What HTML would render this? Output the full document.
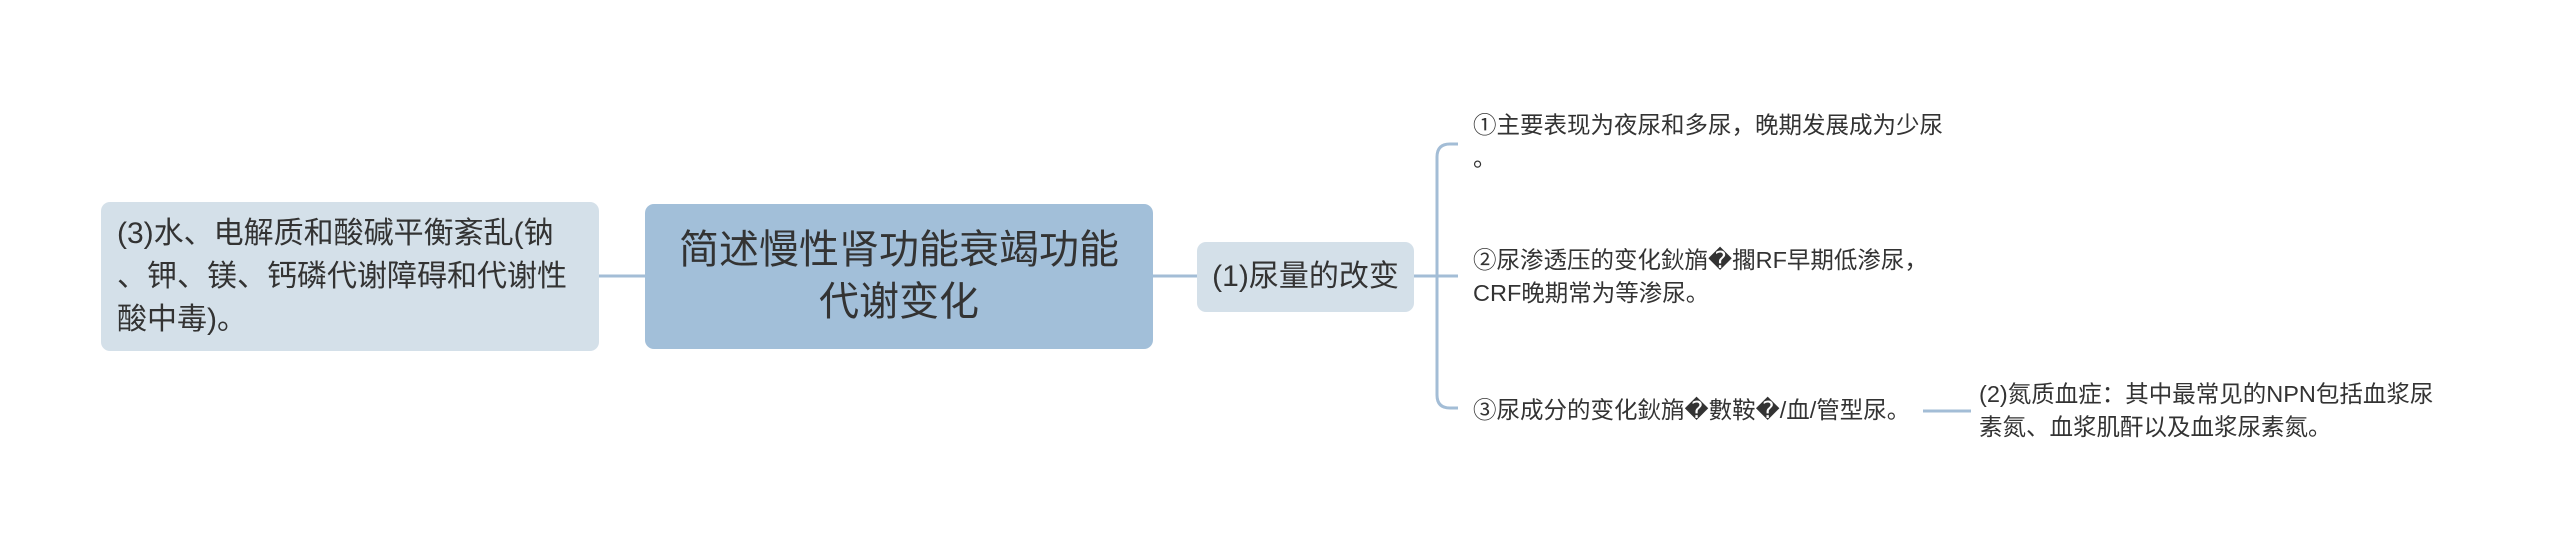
<!DOCTYPE html>
<html><head><meta charset="utf-8"><style>
body{margin:0;width:2560px;height:553px;background:#fff;position:relative;overflow:hidden;font-family:"Liberation Sans","Noto Sans CJK SC",sans-serif;color:#333}
.n{position:absolute;box-sizing:border-box;border-radius:9px}
.t{position:absolute;font-size:23.5px;line-height:33px;white-space:nowrap}
</style></head><body>
<svg width="2560" height="553" style="position:absolute;left:0;top:0">
<g stroke="#a3bdd6" stroke-width="3" fill="none">
<line x1="599" y1="276" x2="645" y2="276"/>
<line x1="1153" y1="276" x2="1197" y2="276"/>
<line x1="1414" y1="276" x2="1458" y2="276"/>
<path d="M1458 144 H1450 Q1437 144 1437 157 V395 Q1437 408 1450 408 H1458"/>
<line x1="1923" y1="411" x2="1971" y2="411"/>
</g></svg>
<div class="n" style="left:101px;top:202px;width:498px;height:149px;background:#d4e0e9;padding:10px 16px;font-size:30px;line-height:43px;white-space:nowrap">(3)水、电解质和酸碱平衡紊乱(钠<br>、钾、镁、钙磷代谢障碍和代谢性<br>酸中毒)。</div>
<div class="n" style="left:645px;top:204px;width:508px;height:145px;background:#a2bfd9;font-size:40px;line-height:52px;text-align:center;padding-top:20px;white-space:nowrap">简述慢性肾功能衰竭功能<br>代谢变化</div>
<div class="n" style="left:1197px;top:242px;width:217px;height:70px;background:#d4e0e9;font-size:30px;line-height:70px;text-align:center;white-space:nowrap">(1)尿量的改变</div>
<div class="t" style="left:1473px;top:109px">①主要表现为夜尿和多尿，晚期发展成为少尿<br>。</div>
<div class="t" style="left:1473px;top:244px">②尿渗透压的变化鈥旓�擱RF早期低渗尿，<br>CRF晚期常为等渗尿。</div>
<div class="t" style="left:1473px;top:394px">③尿成分的变化鈥旓�數鞍�/血/管型尿。</div>
<div class="t" style="left:1979px;top:378px">(2)氮质血症：其中最常见的NPN包括血浆尿<br>素氮、血浆肌酐以及血浆尿素氮。</div>
</body></html>
